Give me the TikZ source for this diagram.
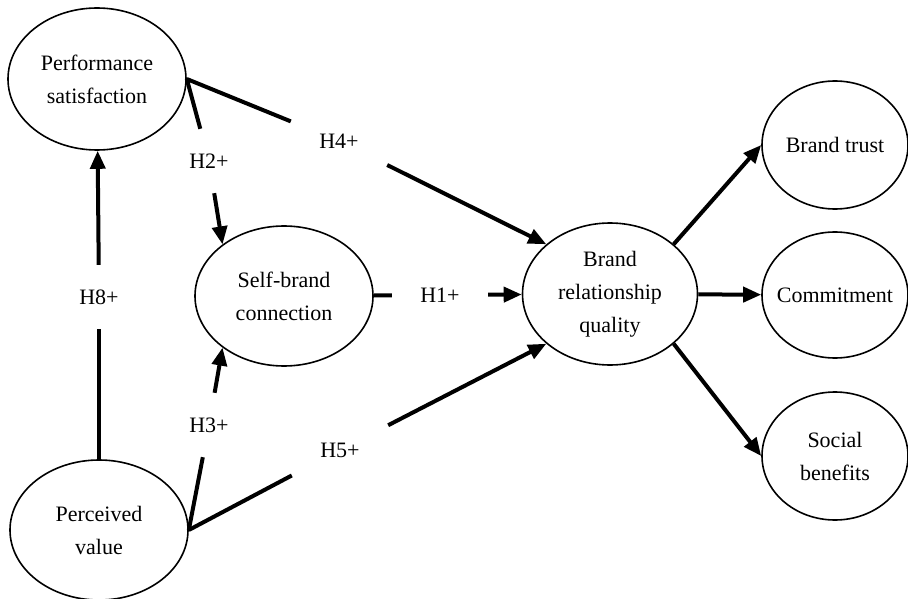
\documentclass[tikz,border=0pt]{standalone}
\usepackage{fontspec}
\setmainfont{Liberation Serif}
\usetikzlibrary{arrows.meta,shapes.geometric}

\begin{document}
\begin{tikzpicture}[x=1pt,y=-1pt,
  construct/.style={ellipse,draw,line width=1.6pt,inner sep=-25pt,align=center,
    font=\fontsize{22}{33}\selectfont},
  hyp/.style={rectangle,minimum width=96pt,minimum height=64pt,inner sep=0pt,
    font=\fontsize{22}{26}\selectfont},
  link/.style={line width=4pt},
  linkarrow/.style={link,-{Triangle[length=18pt,width=15pt]}}]

\fill[white] (0,0) rectangle (908,599);
\useasboundingbox (0,0) rectangle (908,599);

% latent constructs
\node[construct,minimum width=178pt,minimum height=142pt] (ps)  at (97,79)   {Performance\\satisfaction};
\node[construct,minimum width=178pt,minimum height=140pt] (sb)  at (284,296) {Self-brand\\connection};
\node[construct,minimum width=178pt,minimum height=140pt] (pv)  at (99,530)  {Perceived\\value};
\node[construct,minimum width=175pt,minimum height=142pt] (brq) at (610,294) {Brand\\relationship\\quality};
\node[construct,minimum width=146pt,minimum height=128pt] (bt)  at (835,145) {Brand trust};
\node[construct,minimum width=146pt,minimum height=126pt] (cm)  at (835,295) {Commitment};
\node[construct,minimum width=146pt,minimum height=128pt] (sob) at (835,456) {Social\\benefits};

% hypothesis labels, set in gaps of the paths
\node[hyp] (h8) at (99,297)  {H8+};
\node[hyp] (h2) at (209,161) {H2+};
\node[hyp] (h4) at (339,141) {H4+};
\node[hyp] (h1) at (440,295) {H1+};
\node[hyp] (h3) at (209,425) {H3+};
\node[hyp] (h5) at (340,450) {H5+};

% hypothesised paths
\draw[link] (pv) -- (h8);
\draw[linkarrow] (h8) -- (ps);
\draw[link] (ps.east) -- (h2);
\draw[linkarrow] (h2) -- (sb.140);
\draw[link] (ps.east) -- (h4);
\draw[linkarrow] (h4) -- (brq.142);
\draw[link] (pv.east) -- (h3);
\draw[linkarrow] (h3) -- (sb.220);
\draw[link] (pv.east) -- (h5);
\draw[linkarrow] (h5) -- (brq.218);
\draw[link] (sb) -- (h1);
\draw[linkarrow] (h1) -- (brq);

% dimensions of relationship quality
\draw[linkarrow] (brq.38) -- (bt.west);
\draw[linkarrow] (brq) -- (cm);
\draw[linkarrow] (brq.322) -- (sob.west);
\end{tikzpicture}
\end{document}
